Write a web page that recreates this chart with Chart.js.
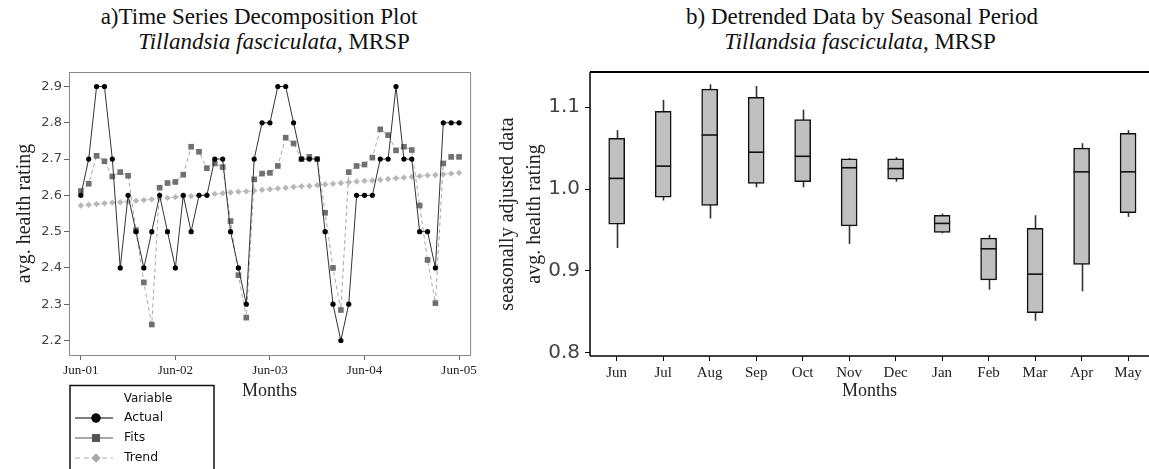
<!DOCTYPE html>
<html>
<head>
<meta charset="utf-8">
<script src="https://cdn.jsdelivr.net/npm/chart.js@4.4.0/dist/chart.umd.min.js"></script>
<style>
  html, body { margin: 0; padding: 0; background: #fff; }
  body { width: 1149px; height: 469px; position: relative; overflow: hidden; font-family: "Liberation Serif", "Times New Roman", serif; }
  .title { position: absolute; font-size: 23px; line-height: 23px; color: #111; white-space: nowrap; transform: translateX(-50%); }
  .panel { position: absolute; top: 0; height: 469px; }
</style>
</head>
<body>
<div class="title" style="left:259px; top:5px;">a)Time Series Decomposition Plot</div>
<div class="title" style="left:274px; top:30px;"><i>Tillandsia fasciculata</i>, MRSP</div>
<div class="title" style="left:862px; top:5px;">b) Detrended Data by Seasonal Period</div>
<div class="title" style="left:860px; top:30px;"><i>Tillandsia fasciculata</i>, MRSP</div>

<div class="panel" style="left:0; width:480px;"><canvas id="tsChart"></canvas></div>
<div class="panel" style="left:480px; width:669px;"><canvas id="boxChart"></canvas></div>

<script>
// monthly series, Jun-01 .. Jun-05
const actual = [2.6, 2.7, 2.9, 2.9, 2.7, 2.4, 2.6, 2.5, 2.4, 2.5, 2.6, 2.5,
                2.4, 2.6, 2.5, 2.6, 2.6, 2.7, 2.7, 2.5, 2.4, 2.3, 2.7, 2.8,
                2.8, 2.9, 2.9, 2.8, 2.7, 2.7, 2.7, 2.5, 2.3, 2.2, 2.3, 2.6,
                2.6, 2.6, 2.7, 2.7, 2.9, 2.7, 2.7, 2.5, 2.5, 2.4, 2.8, 2.8,
                2.8];
const fits = [2.612, 2.632, 2.709, 2.694, 2.652, 2.664, 2.654, 2.504, 2.360, 2.244, 2.621, 2.634,
              2.637, 2.657, 2.734, 2.720, 2.675, 2.688, 2.678, 2.529, 2.380, 2.263, 2.644, 2.660,
              2.662, 2.681, 2.759, 2.743, 2.700, 2.706, 2.700, 2.552, 2.400, 2.284, 2.664, 2.681,
              2.685, 2.704, 2.782, 2.766, 2.724, 2.734, 2.725, 2.572, 2.422, 2.303, 2.688, 2.706,
              2.706];
const trend = [2.572, 2.574, 2.576, 2.578, 2.580, 2.581, 2.583, 2.585, 2.587, 2.589, 2.591, 2.593,
               2.595, 2.596, 2.598, 2.600, 2.602, 2.604, 2.606, 2.608, 2.610, 2.611, 2.613, 2.615,
               2.617, 2.619, 2.621, 2.623, 2.625, 2.626, 2.628, 2.630, 2.632, 2.634, 2.636, 2.638,
               2.640, 2.641, 2.643, 2.645, 2.647, 2.649, 2.651, 2.653, 2.655, 2.656, 2.658, 2.660,
               2.662];
const tsTickIndex = [0, 12, 24, 36, 48];
const tsTickLabels = ["Jun-01", "Jun-02", "Jun-03", "Jun-04", "Jun-05"];
const tsYTicks = [2.2, 2.3, 2.4, 2.5, 2.6, 2.7, 2.8, 2.9];

// detrended data per seasonal period
const months = ["Jun", "Jul", "Aug", "Sep", "Oct", "Nov", "Dec", "Jan", "Feb", "Mar", "Apr", "May"];
const whiskerHigh = [1.072, 1.109, 1.128, 1.126, 1.097, 1.038, 1.039, 0.970, 0.944, 0.968, 1.056, 1.072];
const q3 = [1.062, 1.095, 1.122, 1.112, 1.085, 1.037, 1.037, 0.968, 0.940, 0.952, 1.050, 1.068];
const median = [1.013, 1.028, 1.066, 1.045, 1.040, 1.026, 1.025, 0.958, 0.927, 0.896, 1.021, 1.021];
const q1 = [0.957, 0.990, 0.980, 1.007, 1.009, 0.955, 1.012, 0.947, 0.889, 0.849, 0.908, 0.971];
const whiskerLow = [0.928, 0.986, 0.964, 1.002, 1.002, 0.933, 1.009, 0.946, 0.877, 0.839, 0.875, 0.966];
const boxYTicks = [0.8, 0.9, 1.0, 1.1];

const serif = "'Liberation Serif', 'Times New Roman', serif";
const sans = "'DejaVu Sans', sans-serif";

const toXY = arr => arr.map((v, i) => ({ x: i, y: v }));

// frame + legend for the decomposition plot
const tsFrame = {
    id: "tsFrame",
    afterDraw(chart) {
        const { ctx, chartArea: a } = chart;
        ctx.save();
        ctx.strokeStyle = "#8a8a8a";
        ctx.lineWidth = 1;
        ctx.strokeRect(a.left + 0.5, a.top + 0.5, a.right - a.left, a.bottom - a.top);

        // legend box
        const lx = 70, ly = 385.5, lw = 144;
        ctx.strokeStyle = "#111";
        ctx.lineWidth = 1.5;
        ctx.strokeRect(lx, ly, lw, 120);
        ctx.fillStyle = "#111";
        ctx.font = "12px " + sans;
        ctx.textAlign = "center";
        ctx.textBaseline = "middle";
        ctx.fillText("Variable", 148, 399);

        const rows = [
            { label: "Actual", y: 418, line: "#000", dash: [], mark: "circle", fill: "#000" },
            { label: "Fits", y: 438, line: "#555", dash: [], mark: "rect", fill: "#555" },
            { label: "Trend", y: 458, line: "#aaa", dash: [5, 4], mark: "rectRot", fill: "#aaa" }
        ];
        rows.forEach(r => {
            ctx.strokeStyle = r.line;
            ctx.lineWidth = 1.2;
            ctx.setLineDash(r.dash);
            ctx.beginPath();
            ctx.moveTo(75, r.y);
            ctx.lineTo(113, r.y);
            ctx.stroke();
            ctx.setLineDash([]);
            ctx.fillStyle = r.fill;
            Chart.helpers.drawPoint(ctx, { pointStyle: r.mark, radius: r.mark === "rect" ? 5.5 : 4.5, borderWidth: 0 }, 96, r.y);
            ctx.fill();
            ctx.fillStyle = "#111";
            ctx.font = "12.5px " + sans;
            ctx.textAlign = "left";
            ctx.fillText(r.label, 124, r.y);
        });
        ctx.restore();
    }
};

new Chart(document.getElementById("tsChart"), {
    type: "line",
    data: {
        datasets: [
            {
                label: "Actual",
                data: toXY(actual),
                borderColor: "#333",
                borderWidth: 1,
                pointStyle: "circle",
                pointRadius: 2.6,
                pointBackgroundColor: "#000",
                pointBorderColor: "#000",
                pointBorderWidth: 0
            },
            {
                label: "Fits",
                data: toXY(fits),
                borderColor: "#a8a8a8",
                borderWidth: 1,
                borderDash: [4, 3],
                pointStyle: "rect",
                pointRadius: 4,
                pointBackgroundColor: "#707070",
                pointBorderWidth: 0
            },
            {
                label: "Trend",
                data: toXY(trend),
                borderColor: "#c8c8c8",
                borderWidth: 1,
                borderDash: [3, 3],
                pointStyle: "rectRot",
                pointRadius: 3.2,
                pointBackgroundColor: "#b8b8b8",
                pointBorderWidth: 0
            }
        ]
    },
    options: {
        responsive: true,
        maintainAspectRatio: false,
        animation: false,
        layout: { padding: { left: 0, top: 72, right: 9, bottom: 0 } },
        plugins: { legend: { display: false }, tooltip: { enabled: false } },
        scales: {
            x: {
                type: "linear",
                min: -1.5,
                max: 49.4,
                afterBuildTicks: s => { s.ticks = tsTickIndex.map(v => ({ value: v })); },
                afterFit: s => { s.height = 114; },
                grid: { drawOnChartArea: false, drawTicks: true, tickLength: 5, color: "#666" },
                border: { display: false },
                ticks: {
                    autoSkip: false,
                    maxRotation: 0,
                    padding: 3,
                    color: "#222",
                    font: { family: serif, size: 13 },
                    callback: (v, i) => tsTickLabels[i]
                },
                title: {
                    display: true,
                    text: "Months",
                    color: "#222",
                    font: { family: serif, size: 18 },
                    padding: { top: 0, bottom: 67 }
                }
            },
            y: {
                min: 2.16,
                max: 2.94,
                afterBuildTicks: s => { s.ticks = tsYTicks.map(v => ({ value: v })); },
                afterFit: s => { s.width = 69; },
                grid: { drawOnChartArea: false, drawTicks: true, tickLength: 5, color: "#666" },
                border: { display: false },
                ticks: {
                    padding: 2,
                    color: "#444",
                    font: { family: sans, size: 13 },
                    callback: v => v.toFixed(1)
                },
                title: {
                    display: true,
                    text: "avg. health rating",
                    color: "#222",
                    font: { family: serif, size: 20 },
                    padding: { top: 13, bottom: 0 }
                }
            }
        }
    },
    plugins: [tsFrame]
});

// whiskers under the boxes, medians and axis lines on top
const boxParts = {
    id: "boxParts",
    beforeDatasetsDraw(chart) {
        const { ctx, scales: { x, y } } = chart;
        ctx.save();
        ctx.strokeStyle = "#333";
        ctx.lineWidth = 1.6;
        months.forEach((m, i) => {
            const px = Math.round(x.getPixelForValue(i)) + 0.5;
            ctx.beginPath();
            ctx.moveTo(px, y.getPixelForValue(whiskerHigh[i]));
            ctx.lineTo(px, y.getPixelForValue(whiskerLow[i]));
            ctx.stroke();
        });
        ctx.restore();
    },
    afterDatasetsDraw(chart) {
        const { ctx, scales: { y } } = chart;
        const bars = chart.getDatasetMeta(0).data;
        ctx.save();
        ctx.strokeStyle = "#111";
        ctx.lineWidth = 1.6;
        bars.forEach((b, i) => {
            const py = y.getPixelForValue(median[i]);
            ctx.beginPath();
            ctx.moveTo(b.x - b.width / 2, py);
            ctx.lineTo(b.x + b.width / 2, py);
            ctx.stroke();
        });
        ctx.restore();
    },
    afterDraw(chart) {
        const { ctx, chartArea: a } = chart;
        ctx.save();
        ctx.strokeStyle = "#000";
        ctx.lineWidth = 1.5;
        ctx.beginPath();
        ctx.moveTo(a.left, a.bottom);
        ctx.lineTo(a.left, a.top);
        ctx.stroke();
        ctx.beginPath();
        ctx.moveTo(a.left, a.bottom);
        ctx.lineTo(a.right, a.bottom);
        ctx.stroke();
        ctx.lineWidth = 2;
        ctx.beginPath();
        ctx.moveTo(a.left, a.top);
        ctx.lineTo(a.right, a.top);
        ctx.stroke();
        ctx.restore();
    }
};

new Chart(document.getElementById("boxChart"), {
    type: "bar",
    data: {
        datasets: [{
            label: "detrended",
            data: months.map((m, i) => ({ x: i, y: [q1[i], q3[i]] })),
            backgroundColor: "#c0c0c0",
            borderColor: "#111",
            borderWidth: 1.5,
            borderSkipped: false,
            barThickness: 16
        }]
    },
    options: {
        responsive: true,
        maintainAspectRatio: false,
        animation: false,
        layout: { padding: { left: 0, top: 72, right: 0, bottom: 0 } },
        plugins: { legend: { display: false }, tooltip: { enabled: false } },
        scales: {
            x: {
                type: "linear",
                offset: false,
                min: -0.574,
                max: 11.45,
                afterBuildTicks: s => { s.ticks = months.map((m, i) => ({ value: i })); },
                afterFit: s => { s.height = 113; },
                grid: { offset: false, drawOnChartArea: false, drawTicks: true, tickLength: 5, color: "#000" },
                border: { display: false },
                ticks: {
                    autoSkip: false,
                    maxRotation: 0,
                    padding: 3,
                    color: "#222",
                    font: { family: serif, size: 15 },
                    callback: (v, i) => months[i]
                },
                title: {
                    display: true,
                    text: "Months",
                    color: "#222",
                    font: { family: serif, size: 18 },
                    padding: { top: 0, bottom: 67 }
                }
            },
            y: {
                min: 0.796,
                max: 1.143,
                afterBuildTicks: s => { s.ticks = boxYTicks.map(v => ({ value: v })); },
                afterFit: s => { s.width = 110; },
                grid: { drawOnChartArea: false, drawTicks: true, tickLength: 5, color: "#000" },
                border: { display: false },
                ticks: {
                    padding: 5,
                    color: "#444",
                    font: { family: sans, size: 20 },
                    callback: v => v.toFixed(1)
                },
                title: {
                    display: true,
                    text: ["seasonally adjusted data", "avg. health rating"],
                    color: "#222",
                    font: { family: serif, size: 20, lineHeight: 1.35 },
                    padding: { top: 14, bottom: 0 }
                }
            }
        }
    },
    plugins: [boxParts]
});
</script>
</body>
</html>
